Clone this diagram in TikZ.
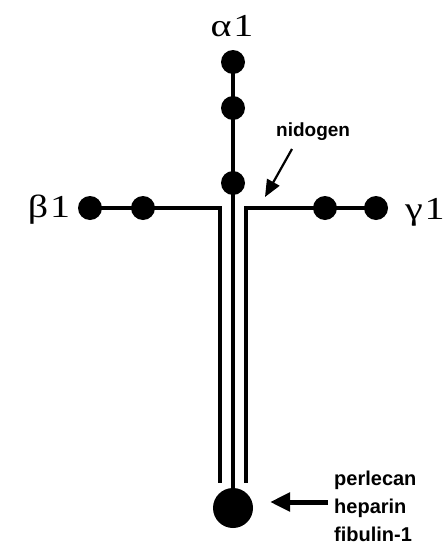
\documentclass[tikz,border=0pt]{standalone}
\usepackage{fontspec}
\setmainfont{Liberation Serif}
\newfontfamily\labelsans{Liberation Sans}
\usetikzlibrary{arrows.meta}
\newcommand{\grk}[1]{\scalebox{1.25}[1]{#1}}
\begin{document}
\begin{tikzpicture}[x=1pt,y=-1pt,
  dot/.style={circle,fill=black,inner sep=0pt,minimum size=24pt},
  bigdot/.style={circle,fill=black,inner sep=0pt,minimum size=40pt},
  chain/.style={line width=4.5pt,line join=miter},
  greek/.style={font=\fontsize{32}{34}\selectfont,inner sep=0pt},
  lbl/.style={font=\labelsans\bfseries\fontsize{20}{28}\selectfont,align=left,inner sep=0pt},
  nlbl/.style={font=\labelsans\bfseries\fontsize{19}{22}\selectfont,inner sep=0pt},
  ptr/.style={line width=2.2pt,-{Triangle[length=17pt,width=14pt]}},
  bigptr/.style={line width=5pt,-{Triangle[length=20pt,width=18pt]}}]
\useasboundingbox (0,0) rectangle (446,549);
% alpha arm
\node[dot] (a1) at (233,62) {};
\node[dot] (a2) at (233,108) {};
\node[dot] (a3) at (233,183) {};
% beta arm
\node[dot] (b1) at (90,208) {};
\node[dot] (b2) at (143,208) {};
% gamma arm
\node[dot] (g1) at (376,208) {};
\node[dot] (g2) at (325,208) {};
% bottom globule
\node[bigdot] (bot) at (233,508) {};
% corners
\coordinate (lc) at (220,208);
\coordinate (lb) at (220,483);
\coordinate (rc) at (246,208);
\coordinate (rb) at (246,483);
\draw[chain] (b1.center) -- (b2.center) -- (lc) -- (lb);
\draw[chain] (g1.center) -- (g2.center) -- (rc) -- (rb);
\draw[chain] (a1.center) -- (a2.center) -- (a3.center) -- (bot.center);
% Greek labels
\node[greek] (la) at (232,26) {\grk{α\kern1.5pt 1}};
\node[greek] (lbeta) at (49,210) {\grk{β\kern1.5pt 1}};
\node[greek] (lgam) at (425,212) {\grk{γ\kern1.5pt 1}};
% nidogen
\node[nlbl,anchor=west] (nid) at (276,132) {nidogen};
\coordinate (nidtail) at (292,149);
\coordinate (nidtip) at (265,197);
\draw[ptr] (nidtail) -- (nidtip);
% perlecan etc.
\node[lbl,anchor=west] (perl) at (334,506) {perlecan\\heparin\\fibulin-1};
\coordinate (ptail) at (328,502);
\coordinate (ptip) at (270,502);
\draw[bigptr] (ptail) -- (ptip);
\end{tikzpicture}
\end{document}
